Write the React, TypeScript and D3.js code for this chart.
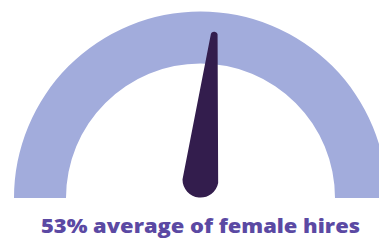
import React from "react";
import * as d3 from "d3";

const gaugeDomain = [0, 100];
const values = [53];
const labels = ["53% average of female hires"];

const W = 379;
const H = 241;
const cx = 200.5;
const cy = 198;
const innerR = 134.5;
const outerR = 186.5;

export default function App() {
  const angle = d3.scaleLinear().domain(gaugeDomain).range([-Math.PI / 2, Math.PI / 2]);
  const arcGen = d3.arc();
  const bg = arcGen({
    innerRadius: innerR,
    outerRadius: outerR,
    startAngle: angle(gaugeDomain[0]),
    endAngle: angle(gaugeDomain[1]),
  }) as string;

  const a = angle(values[0]);
  const baseX = cx;
  const baseY = 179.5;
  const baseR = 18;
  const len = 145;
  const tipR = 3.5;
  const dx = Math.sin(a);
  const dy = -Math.cos(a);
  const tipX = baseX + dx * len;
  const tipY = baseY + dy * len;
  const beta = Math.asin((baseR - tipR) / len);
  const dirAng = Math.atan2(dy, dx);
  const p1a = dirAng + Math.PI / 2 + beta;
  const p2a = dirAng - Math.PI / 2 - beta;
  const p = d3.path();
  p.moveTo(baseX + baseR * Math.cos(p1a), baseY + baseR * Math.sin(p1a));
  p.lineTo(tipX + tipR * Math.cos(p1a), tipY + tipR * Math.sin(p1a));
  p.arc(tipX, tipY, tipR, p1a, p2a, true);
  p.lineTo(baseX + baseR * Math.cos(p2a), baseY + baseR * Math.sin(p2a));
  p.arc(baseX, baseY, baseR, p2a, p1a, true);
  p.closePath();

  return (
    <svg width={W} height={H} style={{ position: "absolute", left: 0, top: 0 }}>
      <rect width={W} height={H} fill="#ffffff" />
      <path d={bg} transform={`translate(${cx},${cy})`} fill="#a2acdc" />
      <path d={p.toString()} fill="#331d4d" />
      <text
        x={200.5}
        y={232.5}
        textAnchor="middle"
        fontFamily="'Open Sans', Lato, sans-serif"
        fontWeight={800}
        fontSize={19}
        textLength={319}
        lengthAdjust="spacingAndGlyphs"
        fill="#5b49a3"
      >
        {labels[0]}
      </text>
    </svg>
  );
}
